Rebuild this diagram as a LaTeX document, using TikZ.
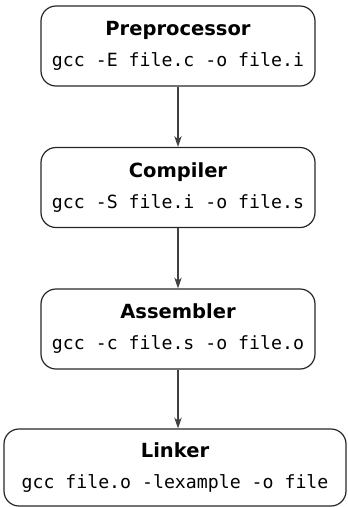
\documentclass[tikz,border=0pt]{standalone}
\usepackage{fontspec}
\setsansfont{DejaVu Sans}
\setmonofont{DejaVu Sans Mono}
\usetikzlibrary{arrows.meta}

\newcommand{\stagetitle}[1]{{\sffamily\bfseries\fontsize{19.5}{31}\selectfont #1}}

\begin{document}
\begin{tikzpicture}[x=1pt,y=-1pt,
    stage/.style={draw=black!85,line width=1.2pt,rounded corners=15pt,align=center,
      minimum width=274pt,minimum height=80pt,inner sep=0pt,
      font=\ttfamily\fontsize{18.2}{31}\selectfont},
    flow/.style={draw=black!75,line width=1.3pt,
      -{Stealth[length=11pt,width=7.5pt,inset=3.5pt]}}]
  \useasboundingbox (0,0) rectangle (348,507);
  \node[stage] (pre) at (178,46) {\stagetitle{Preprocessor}\\gcc -E file.c -o file.i};
  \node[stage] (comp) at (178,187.5) {\stagetitle{Compiler}\\gcc -S file.i -o file.s};
  \node[stage] (asm) at (178,329) {\stagetitle{Assembler}\\gcc -c file.s -o file.o};
  \node[stage,minimum width=342pt,minimum height=77pt] (link) at (175,467.5)
    {\stagetitle{Linker}\\gcc file.o -lexample -o file};
  \foreach \a/\b in {pre/comp,comp/asm}
    \draw[flow] (\a) -- (\b);
  \draw[flow] (asm) -- (asm.south |- link.north);
\end{tikzpicture}
\end{document}
